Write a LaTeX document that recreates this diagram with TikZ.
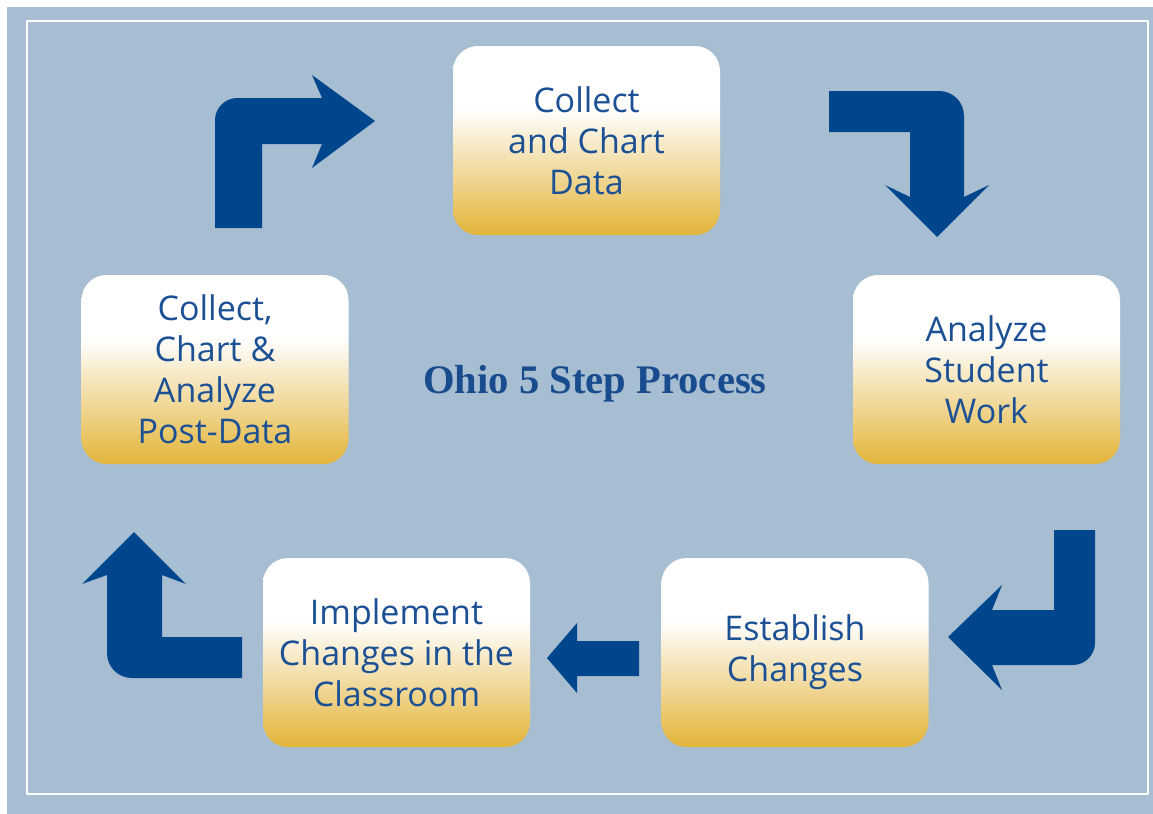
\documentclass[tikz,border=0pt]{standalone}
\usepackage{fontspec}
\newfontfamily\boxfont{Open Sans}
\newfontfamily\titlefont{Liberation Serif}
\definecolor{bgblue}{RGB}{167,190,210}
\definecolor{arrowblue}{RGB}{0,70,140}
\definecolor{textblue}{RGB}{28,80,148}
\definecolor{titleblue}{RGB}{24,76,142}
\definecolor{goldA}{RGB}{226,180,58}
\definecolor{goldB}{RGB}{232,194,92}
\definecolor{goldC}{RGB}{240,214,148}
\definecolor{goldD}{RGB}{248,236,205}
\definecolor{goldE}{RGB}{253,250,242}
\pgfdeclareverticalshading{stepfill}{100bp}{color(0bp)=(goldA); color(25bp)=(goldA);
  color(31bp)=(goldB); color(40bp)=(goldC); color(50bp)=(goldD); color(56bp)=(goldE);
  color(59bp)=(white); color(100bp)=(white)}
\begin{document}
\begin{tikzpicture}[x=0.5pt,y=-0.5pt,line join=round,
	stepbox/.style={shade,shading=stepfill,rounded corners=12.5pt,inner sep=0pt,
		minimum width=133.5pt,minimum height=94.5pt,align=center,text=textblue,
		font=\boxfont\fontsize{17}{20.5}\selectfont},
	blockarrow/.style={fill=arrowblue}]
	\useasboundingbox (0,0) rectangle (1153,814);
	\fill[bgblue] (7,7) rectangle (1153,814);
	\draw[white,line width=1pt] (27,21) rectangle (1148,794);
	% the five steps
	\node[stepbox] (collect) at (586.5,140.5) {Collect\\and Chart\\Data};
	\node[stepbox] (analyze) at (986.5,369.5) {Analyze\\Student\\Work};
	\node[stepbox] (establish) at (795,652.5) {Establish\\Changes};
	\node[stepbox] (implement) at (396.5,652.5) {Implement\\Changes in the\\Classroom};
	\node[stepbox] (postdata) at (215,369.5) {Collect,\\Chart \&\\Analyze\\Post-Data};
	\node[anchor=base,text=titleblue,font=\titlefont\bfseries\fontsize{20.3}{24}\selectfont]
		(title) at (595,393) {Ohio 5 Step Process};
	% block arrows
	\fill[blockarrow] (215,228) -- (215,120)
		.. controls (215,108) and (225,98) .. (237,98)
		-- (322,98) -- (312,75) -- (375,121) -- (312,168) -- (322,144)
		-- (262,144) -- (262,228) -- cycle;
	\fill[blockarrow] (829,91) -- (939,91)
		.. controls (953,91) and (964,102) .. (964,116)
		-- (964,197) -- (989,185) -- (937,237) -- (885,185) -- (910,197)
		-- (910,132) -- (829,132) -- cycle;
	\fill[blockarrow] (1054,530) -- (1095,530) -- (1095,643)
		.. controls (1095,655) and (1085,665) .. (1073,665)
		-- (992,665) -- (1002,690) -- (948,637) -- (1002,585) -- (992,610)
		-- (1054,610) -- cycle;
	\fill[blockarrow] (639,641) -- (639,676) -- (577,676) -- (577,693)
		-- (547,658) -- (577,623) -- (577,641) -- cycle;
	\fill[blockarrow] (242,637) -- (242,678) -- (132,678)
		.. controls (118,678) and (107,667) .. (107,653)
		-- (107,575) -- (82,584) -- (134,532) -- (186,584) -- (162,575)
		-- (162,637) -- cycle;
\end{tikzpicture}
\end{document}
